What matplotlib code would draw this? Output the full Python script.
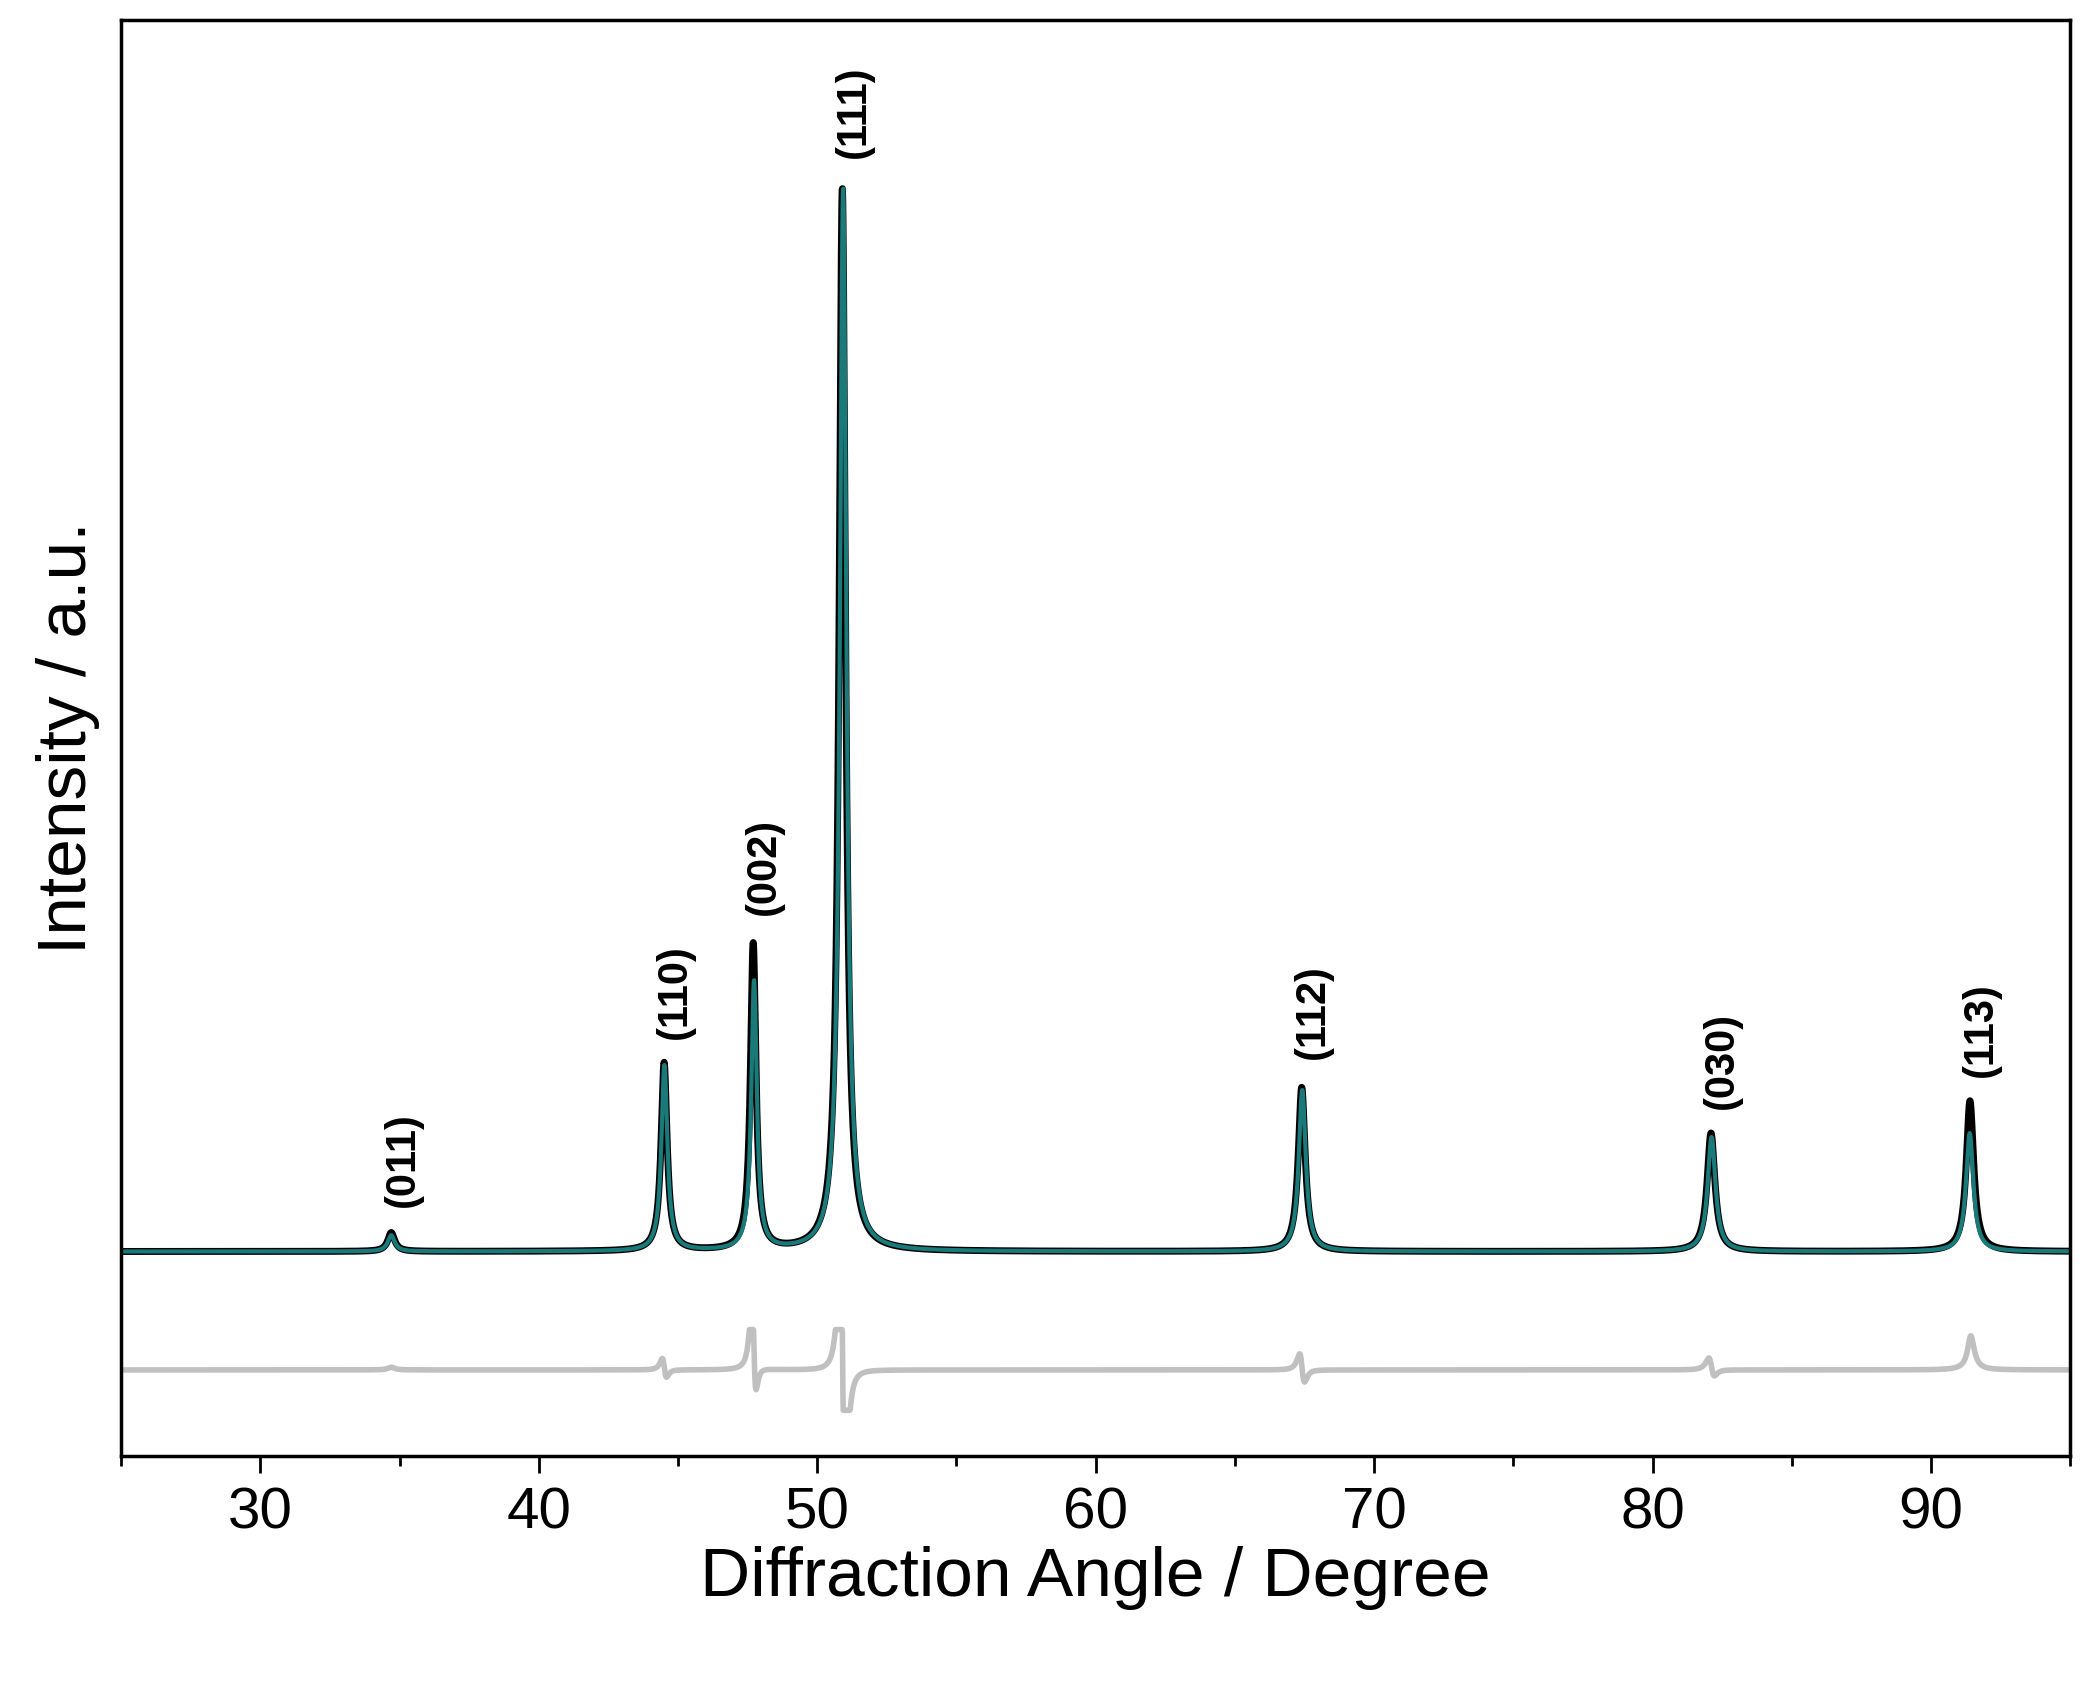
import numpy as np
import matplotlib.pyplot as plt
plt.rcParams['font.family'] = ['Liberation Sans', 'DejaVu Sans']

labels = ["(011)", "(110)", "(002)", "(111)", "(112)", "(030)", "(113)"]
pos = [34.7, 44.5, 47.7, 50.9, 67.4, 82.1, 91.4]
pos_calc = [34.7, 44.51, 47.73, 50.93, 67.42, 82.12, 91.39]
h_obs = [14, 140, 228, 790, 122, 88, 112]
h_calc = [12, 138, 200, 790, 120, 85, 88]
widths = [0.15, 0.13, 0.12, 0.14, 0.15, 0.17, 0.16]
label_y = [175, 300, 392, 955, 285, 248, 272]
baseline = 152
diff_offset = 64

x = np.linspace(25, 95, 7000)
def profile(p_list, h):
    y = np.full_like(x, baseline, dtype=float)
    for p, a, w in zip(p_list, h, widths):
        y += a / (1 + ((x - p) / w) ** 2)
    return y
obs = profile(pos, h_obs)
calc = profile(pos_calc, h_calc)
diff = np.clip(obs - calc, -30, 30) + diff_offset

fig = plt.figure(figsize=(20.89, 16.88), dpi=100)
ax = fig.add_axes([0.058, 0.1374, 0.933, 0.8506])
ax.plot(x, obs, color='black', lw=5)
ax.plot(x, calc, color='#1a7a7a', lw=3)
ax.plot(x, diff, color='#c0c0c0', lw=4)
for lab, p, ly in zip(labels, pos, label_y):
    ax.text(p + 0.4, ly + 10, lab, rotation=90, ha='center', va='bottom',
            fontsize=30, fontweight='bold')
ax.set_xlim(25, 95)
ax.set_ylim(0, 1067)
ax.set_yticks([])
ax.set_xticks(range(30, 91, 10))
ax.set_xticks(range(25, 96, 5), minor=True)
ax.tick_params(axis='x', which='major', direction='out', length=12, width=2, labelsize=42, pad=10)
ax.tick_params(axis='x', which='minor', direction='out', length=7, width=2)
for s in ax.spines.values():
    s.set_linewidth(2.5)
ax.set_xlabel("Diffraction Angle / Degree", fontsize=50)
ax.set_ylabel("Intensity / a.u.", fontsize=50, labelpad=15)
fig.savefig("out.png", dpi=100)
